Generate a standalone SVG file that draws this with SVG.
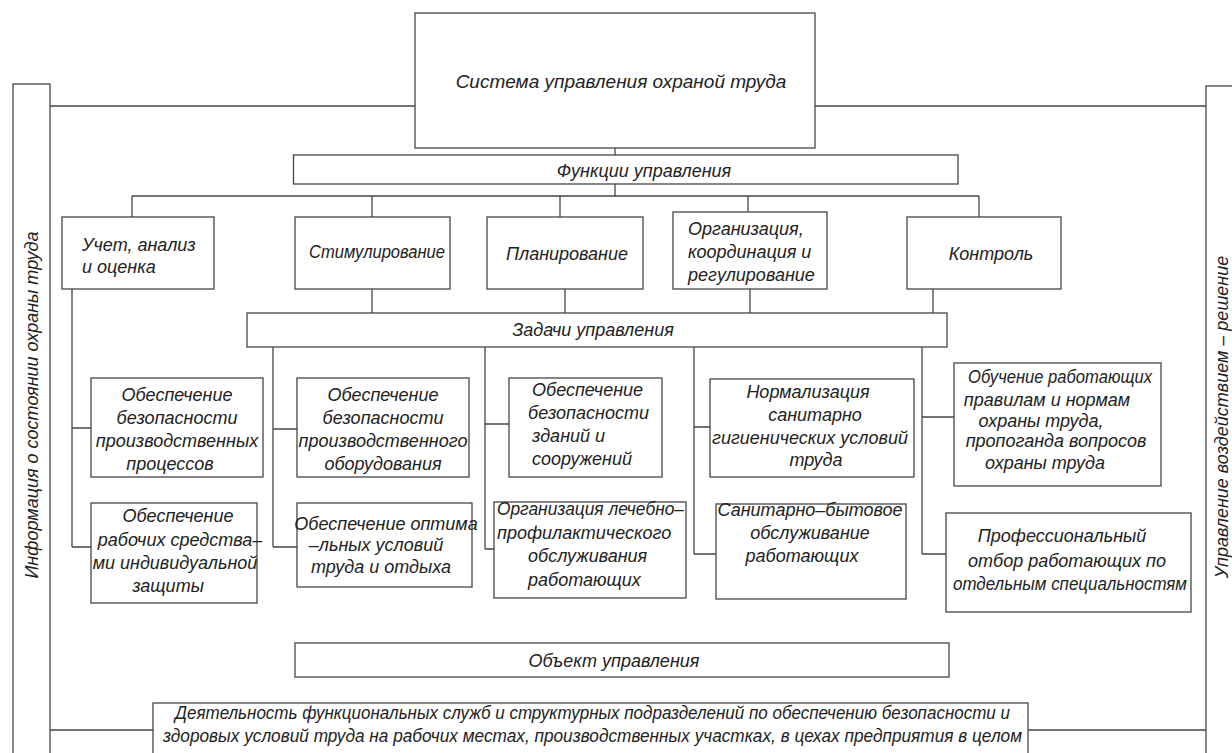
<svg xmlns="http://www.w3.org/2000/svg" width="1232" height="753" viewBox="0 0 1232 753">
<style>
.b{fill:#fff;stroke:#454545;stroke-width:1.3}
.l{fill:none;stroke:#454545;stroke-width:1.3}
.t{font-family:"Liberation Sans",Arial,sans-serif;font-style:italic;font-size:18px;fill:#222}
.c{text-anchor:middle}
</style>
<rect width="1232" height="753" fill="#fff"/>
<g id="connectors">
<path class="l" d="M50 106H415M815 106H1206M615 148V155M615 184V196M132 196H979M132 196V217M372 196V217M560 196V217M748 196V212M979 196V217"/>
<path class="l" d="M372 289V313M565 289V313M750 289V313M933 289V313"/>
<path class="l" d="M72 289V547M72 428H91M72 547H91"/>
<path class="l" d="M273 347V547M273 429H297M273 547H297"/>
<path class="l" d="M485 347V549M485 424H509M485 549H494"/>
<path class="l" d="M694 347V554M694 427H710M694 554H716"/>
<path class="l" d="M922 347V554M922 417H954M922 554H946"/>
<path class="l" d="M50 730H153M1028 730H1206"/>
</g>
<g id="info"><rect class="b" x="13" y="84" width="37" height="720"/>
<text class="t c" transform="translate(38,405) rotate(-90)">Информация о состоянии охраны труда</text></g>
<g id="decision"><rect class="b" x="1206" y="86" width="40" height="720"/>
<text class="t c" transform="translate(1228,417) rotate(-90)">Управление воздействием – решение</text></g>
<g id="system"><rect class="b" x="415" y="13" width="400" height="135"/>
<text class="t c" x="621" y="88" style="font-size:19px">Система управления охраной труда</text></g>
<g id="functions"><rect class="b" x="293.5" y="155" width="664.5" height="29"/>
<text class="t c" x="644" y="177">Функции управления</text></g>
<g id="f1"><rect class="b" x="62" y="217" width="152" height="72"/>
<text class="t" x="82" y="251">Учет, анализ</text><text class="t" x="82" y="273">и оценка</text></g>
<g id="f2"><rect class="b" x="295" y="217" width="155" height="72"/>
<text class="t c" x="377" y="258" textLength="136" lengthAdjust="spacingAndGlyphs">Стимулирование</text></g>
<g id="f3"><rect class="b" x="487" y="217" width="156" height="72"/>
<text class="t c" x="567" y="260">Планирование</text></g>
<g id="f4"><rect class="b" x="673" y="212" width="154" height="77"/>
<text class="t" x="688" y="235">Организация,</text><text class="t" x="688" y="258">координация и</text><text class="t" x="688" y="281">регулирование</text></g>
<g id="f5"><rect class="b" x="907" y="217" width="154" height="72"/>
<text class="t c" x="991" y="260">Контроль</text></g>
<g id="tasks"><rect class="b" x="247" y="313" width="700" height="34"/>
<text class="t c" x="593" y="336">Задачи управления</text></g>
<g id="t1"><rect class="b" x="91" y="378" width="172" height="99"/>
<text class="t c"><tspan x="177" y="401">Обеспечение</tspan><tspan x="177" y="424">безопасности</tspan><tspan x="177" y="447">производственных</tspan><tspan x="170" y="470">процессов</tspan></text></g>
<g id="t2"><rect class="b" x="91" y="503" width="166" height="100"/>
<text class="t c"><tspan x="178" y="522">Обеспечение</tspan><tspan x="180" y="546">рабочих средства–</tspan><tspan x="175" y="569">ми индивидуальной</tspan><tspan x="168" y="592">защиты</tspan></text></g>
<g id="t3"><rect class="b" x="297" y="378" width="172" height="99"/>
<text class="t c"><tspan x="383" y="401">Обеспечение</tspan><tspan x="383" y="424">безопасности</tspan><tspan x="383" y="447">производственного</tspan><tspan x="383" y="470">оборудования</tspan></text></g>
<g id="t4"><rect class="b" x="297" y="503" width="175" height="84"/>
<text class="t c"><tspan x="386" y="530">Обеспечение оптима</tspan><tspan x="376" y="551">–льных условий</tspan><tspan x="381" y="573">труда и отдыха</tspan></text></g>
<g id="t5"><rect class="b" x="509" y="378" width="153" height="99"/>
<text class="t"><tspan x="532" y="396">Обеспечение</tspan><tspan x="528" y="419">безопасности</tspan><tspan x="532" y="442">зданий и</tspan><tspan x="532" y="465">сооружений</tspan></text></g>
<g id="t6"><rect class="b" x="494" y="502" width="192" height="96"/>
<text class="t"><tspan x="497" y="515" textLength="187" lengthAdjust="spacingAndGlyphs">Организация лечебно–</tspan></text>
<text class="t"><tspan x="497" y="539">профилактического</tspan><tspan x="528" y="562">обслуживания</tspan><tspan x="528" y="586">работающих</tspan></text></g>
<g id="t7"><rect class="b" x="710" y="379" width="204" height="98"/>
<text class="t c"><tspan x="808" y="398">Нормализация</tspan><tspan x="815" y="421">санитарно</tspan><tspan x="810" y="444">гигиенических условий</tspan><tspan x="816" y="466">труда</tspan></text></g>
<g id="t8"><rect class="b" x="716" y="504" width="190" height="95"/>
<text class="t c"><tspan x="810" y="516">Санитарно–бытовое</tspan><tspan x="810" y="539">обслуживание</tspan><tspan x="802" y="562">работающих</tspan></text></g>
<g id="t9"><rect class="b" x="954" y="363" width="207" height="123"/>
<text class="t c" x="1060" y="383" textLength="184" lengthAdjust="spacingAndGlyphs">Обучение работающих</text>
<text class="t c"><tspan x="1047" y="406">правилам и нормам</tspan><tspan x="1041" y="427">охраны труда,</tspan><tspan x="1056" y="447">пропоганда вопросов</tspan><tspan x="1045" y="469">охраны труда</tspan></text></g>
<g id="t10"><rect class="b" x="946" y="513" width="245" height="99"/>
<text class="t c"><tspan x="1062" y="542">Профессиональный</tspan><tspan x="1067" y="567">отбор работающих по</tspan></text>
<text class="t c" x="1070" y="590" textLength="234" lengthAdjust="spacingAndGlyphs">отдельным специальностям</text></g>
<g id="object"><rect class="b" x="295" y="643" width="654" height="34"/>
<text class="t c" x="614" y="667">Объект управления</text></g>
<g id="activity"><rect class="b" x="153" y="703" width="875" height="70"/>
<text class="t" x="175" y="719" textLength="835" lengthAdjust="spacingAndGlyphs">Деятельность функциональных служб и структурных подразделений по обеспечению безопасности и</text>
<text class="t" x="163" y="742" textLength="859" lengthAdjust="spacingAndGlyphs">здоровых условий труда на рабочих местах, производственных участках, в цехах предприятия в целом</text></g>
</svg>
